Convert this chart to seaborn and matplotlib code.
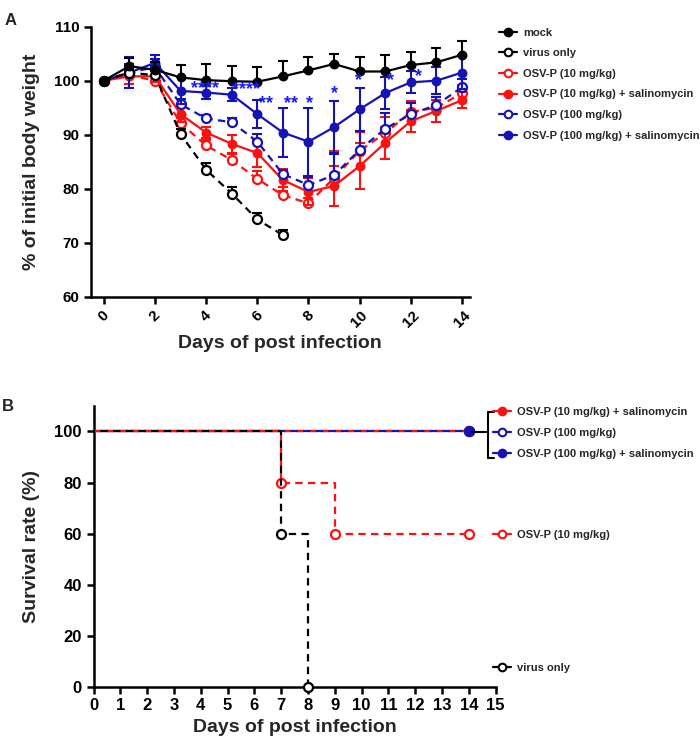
import matplotlib
matplotlib.use("Agg")
import matplotlib.pyplot as plt
import numpy as np
import pandas as pd
import seaborn as sns
from matplotlib.lines import Line2D

# ---- panel A: body weight (% of day 0), mean and error ----
days = np.arange(15)
mock = [100, 102.7, 102.0, 100.6, 100.1, 99.9, 99.8, 100.8, 101.9, 103.1, 101.7, 101.7, 102.9, 103.4, 104.8]
mock_err = [0, 1.5, 1.5, 2.3, 3.0, 2.8, 2.8, 2.8, 2.5, 1.8, 2.6, 3.0, 2.4, 2.6, 2.6]
virus = [100, 101.5, 101.0, 90.1, 83.5, 79.1, 74.3, 71.4]
virus_err = [0, 1.0, 1.0, 1.0, 1.3, 1.3, 1.2, 1.0]
osv10 = [100, 101.0, 100.0, 92.1, 88.0, 85.3, 81.8, 78.8, 77.3, 82.0, 87.0, 90.3, 94.2, 95.0, 97.7]
osv10_err = [0, 1.0, 0.8, 1.0, 1.0, 1.2, 1.5, 1.5, 1.0, 5.0, 3.5, 3.0, 2.0, 1.5, 1.5]
osv10_sal = [100, 100.8, 100.8, 93.8, 90.4, 88.3, 86.6, 81.6, 79.4, 80.5, 84.2, 88.5, 92.5, 94.4, 96.4]
osv10_sal_err = [0, 1.5, 1.0, 1.5, 1.0, 1.7, 2.5, 2.0, 2.5, 3.7, 4.3, 3.0, 2.0, 2.0, 1.5]
osv100 = [100, 101.5, 102.5, 95.6, 93.0, 92.3, 88.7, 82.7, 80.7, 82.5, 87.2, 91.1, 93.8, 95.5, 98.8]
osv100_err = [0, 1.5, 1.5, 1.0, 0.6, 0.8, 1.5, 0.8, 1.5, 4.0, 3.5, 3.0, 2.0, 1.5, 1.5]
osv100_sal = [100, 101.5, 103.3, 98.1, 97.8, 97.4, 93.8, 90.4, 88.7, 91.4, 94.7, 97.7, 99.7, 100.0, 101.5]
osv100_sal_err = [0, 2.8, 1.5, 2.5, 1.2, 1.2, 2.6, 4.5, 6.3, 4.8, 4.0, 3.0, 2.0, 2.5, 3.0]

# significance marks (OSV-P 100 + salinomycin vs OSV-P 100)
star_labels = ["****", "****", "**", "**", "*", "*", "*", "*", "*"]
star_x = [3.95, 5.55, 6.35, 7.3, 8.05, 9.0, 9.95, 11.2, 12.3]
star_y = [98.6, 98.3, 95.8, 95.8, 95.8, 97.7, 100.0, 100.0, 100.7]

# ---- panel B: survival ----
surv_virus_t = [0, 7, 8]
surv_virus = [100, 60, 0]
surv_osv10_t = [0, 7, 9, 14]
surv_osv10 = [100, 80, 60, 60]
surv_full_t = [0, 14]
surv_full = [100, 100]

labels = ["mock", "virus only", "OSV-P (10 mg/kg)", "OSV-P (10 mg/kg) + salinomycin",
          "OSV-P (100 mg/kg)", "OSV-P (100 mg/kg) + salinomycin"]

RED = "#ff1010"
BLUE = "#1414b4"
STAR = "#1a1aff"
DASH = (0, (3.3, 2.4))
DASH_OFF = (2.8, (3.3, 2.4))

sns.set_theme(style="ticks")
plt.rcParams["font.family"] = ["Liberation Sans", "DejaVu Sans"]
plt.rcParams["font.weight"] = "bold"
plt.rcParams["axes.labelweight"] = "bold"

fig = plt.figure(figsize=(7, 7.43), dpi=100)
axA = fig.add_axes([0.13, 0.6007, 0.541, 0.3634])
axB = fig.add_axes([0.1336, 0.0758, 0.5746, 0.3778])

# (values, errors, colour, face, linestyle, two-sided errors, zorder)
series = [
    (osv10, osv10_err, RED, "white", DASH, False, 3),
    (osv10_sal, osv10_sal_err, RED, RED, "-", True, 4),
    (osv100, osv100_err, BLUE, "white", DASH, False, 5),
    (osv100_sal, osv100_sal_err, BLUE, BLUE, "-", True, 6),
    (virus, virus_err, "black", "white", DASH, False, 7),
    (mock, mock_err, "black", "black", "-", False, 8),
]
for vals, err, col, face, ls, both, z in series:
    x = days[:len(vals)]
    err = np.array(err)
    lower = err if both else np.zeros_like(err)
    axA.errorbar(x, vals, yerr=[lower, err], fmt="none", ecolor=col,
                 elinewidth=1.5, capsize=3.5, capthick=1.5, zorder=z)
    sns.lineplot(x=x, y=vals, ax=axA, color=col, linestyle=ls, linewidth=1.6,
                 marker="o", markersize=6.5 if face == "white" else 5.5,
                 markerfacecolor=face, markeredgecolor=col, markeredgewidth=1.6,
                 zorder=z, clip_on=False)

for s, x, y in zip(star_labels, star_x, star_y):
    axA.text(x, y, s, color=STAR, fontsize=13, ha="center", va="center",
             fontweight="bold", zorder=10)

axA.set_xlim(-0.5, 14.3)
axA.set_ylim(60, 110)
axA.set_xticks(range(0, 15, 2))
axA.set_yticks(range(60, 111, 10))
axA.tick_params(axis="x", labelsize=11, rotation=45, width=1.8, length=5)
axA.tick_params(axis="y", labelsize=11, width=1.8, length=5)
axA.set_xlabel("Days of post infection", fontsize=14, labelpad=3)
axA.set_ylabel("% of initial body weight", fontsize=14, labelpad=10)

handlesA = []
for lab, (col, face) in zip(labels, [("black", "black"), ("black", "white"), (RED, "white"),
                                     (RED, RED), (BLUE, "white"), (BLUE, BLUE)]):
    handlesA.append(Line2D([], [], color=col, lw=1.6, marker="o", ms=5.5,
                           mfc=face, mec=col, mew=1.5, label=lab))
fig.legend(handles=handlesA, loc="upper left", bbox_to_anchor=(0.7129, 0.9626),
           frameon=False, handlelength=1.6, handletextpad=0.55,
           labelspacing=0.95, borderpad=0, borderaxespad=0,
           prop={"weight": "bold", "size": 8})

# panel B survival curves (steps)
surv = [
    (surv_full_t, surv_full, BLUE, "white", DASH, 3),
    (surv_full_t, surv_full, RED, RED, DASH, 4),
    (surv_full_t, surv_full, BLUE, BLUE, DASH_OFF, 5),
    (surv_osv10_t, surv_osv10, RED, "white", DASH, 6),
    (surv_virus_t, surv_virus, "black", "white", DASH_OFF, 7),
]
for t, s, col, face, ls, z in surv:
    sns.lineplot(x=t, y=s, ax=axB, color=col, linestyle=ls, linewidth=1.6,
                 drawstyle="steps-post", marker="o", markevery=list(range(1, len(t))),
                 markersize=6.5, markerfacecolor=face, markeredgecolor=col,
                 markeredgewidth=1.6, zorder=z, clip_on=False)

axB.set_xlim(0, 15)
axB.set_ylim(0, 110)
axB.set_xticks(range(0, 16))
axB.set_yticks(range(0, 101, 20))
axB.tick_params(labelsize=12, width=1.8, length=5)
axB.set_xlabel("Days of post infection", fontsize=14, labelpad=4)
axB.set_ylabel("Survival rate (%)", fontsize=14, labelpad=10)

for ax in (axA, axB):
    sns.despine(ax=ax)
    for sp in ("left", "bottom"):
        ax.spines[sp].set_linewidth(1.8)
        ax.spines[sp].set_color("black")
    ax.tick_params(color="black", labelcolor="black")

def group_legend(idx, top_y):
    hs = [handlesA[i] for i in idx]
    fig.legend(handles=hs, loc="upper left", bbox_to_anchor=(0.704, top_y),
               frameon=False, handlelength=1.6, handletextpad=0.6,
               labelspacing=1.0, borderpad=0, borderaxespad=0,
               prop={"weight": "bold", "size": 8})

group_legend([3, 4, 5], 0.4522)
group_legend([2], 0.2873)
group_legend([1], 0.1079)

# bracket joining the three curves that stay at 100 %
def fx(p):
    return p / 700
def fy(p):
    return 1 - p / 743
for xs, ys in [([472, 488], [431.7, 431.7]), ([488, 488], [411.7, 458.3]),
               ([488, 494], [411.7, 411.7]), ([488, 494], [458.3, 458.3])]:
    fig.add_artist(Line2D([fx(v) for v in xs], [fy(v) for v in ys],
                          color="black", lw=1.5))

fig.text(0.006, 0.982, "A", fontsize=12, fontweight="bold", va="top")
fig.text(0.002, 0.463, "B", fontsize=12, fontweight="bold", va="top")

fig.savefig("out.png", dpi=100)
